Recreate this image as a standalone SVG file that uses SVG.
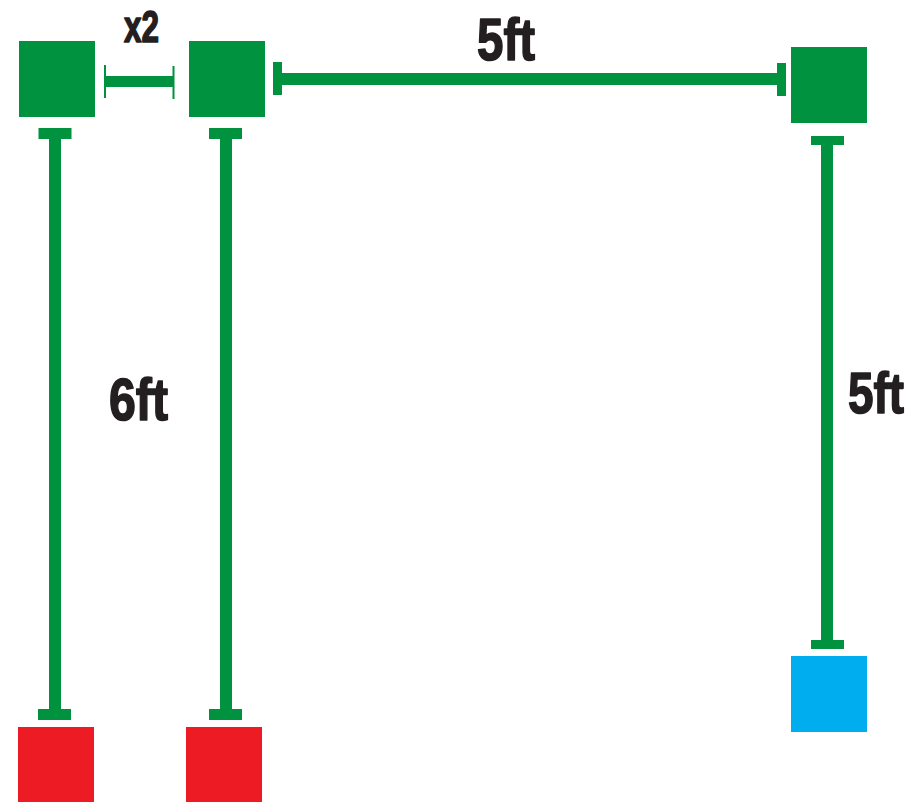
<svg xmlns="http://www.w3.org/2000/svg" width="911" height="802" viewBox="0 0 911 802">
  <style>
    .g { fill: #00923F; }
    .r { fill: #ED1C24; }
    .b { fill: #00AEEF; }
    .lbl { font-family: "Liberation Sans", Arial, sans-serif; font-weight: bold; fill: #231F20; stroke: #231F20; stroke-width: 1.6; stroke-linejoin: round; }
  </style>
  <rect width="911" height="802" fill="#ffffff"/>
  <g id="node-green-1"><rect class="g" x="19" y="41" width="76" height="76"/></g>
  <g id="node-green-2"><rect class="g" x="189" y="41" width="76" height="76"/></g>
  <g id="node-green-3"><rect class="g" x="791" y="47" width="76" height="76"/></g>
  <g id="node-red-1"><rect class="r" x="18" y="727" width="76" height="75"/></g>
  <g id="node-red-2"><rect class="r" x="186" y="727" width="76" height="75"/></g>
  <g id="node-blue"><rect class="b" x="791" y="656" width="76" height="76"/></g>
  <g id="connectors">
    <!-- x2 spacing -->
    <rect class="g" x="104" y="65" width="2" height="33"/>
    <rect class="g" x="106" y="76" width="67" height="11"/>
    <rect class="g" x="172.5" y="66" width="2" height="33"/>
    <!-- 5ft horizontal -->
    <rect class="g" x="273" y="62" width="9" height="33"/>
    <rect class="g" x="282" y="73" width="495" height="12"/>
    <rect class="g" x="777" y="63" width="9" height="33"/>
    <!-- column 1 vertical -->
    <rect class="g" x="38.5" y="128" width="33" height="11"/>
    <rect class="g" x="49" y="139" width="12" height="570"/>
    <rect class="g" x="38" y="709" width="33" height="11"/>
    <!-- column 2 vertical -->
    <rect class="g" x="209" y="128" width="33" height="11"/>
    <rect class="g" x="220" y="139" width="12" height="570"/>
    <rect class="g" x="209" y="709" width="33" height="11"/>
    <!-- column 3 vertical -->
    <rect class="g" x="811" y="136" width="33" height="9"/>
    <rect class="g" x="821" y="145" width="12" height="495"/>
    <rect class="g" x="811" y="640" width="33" height="9"/>
  </g>
  <g id="labels">
    <text class="lbl" x="124" y="41.5" font-size="45" textLength="35" lengthAdjust="spacingAndGlyphs">x2</text>
    <text class="lbl" x="477" y="59.5" font-size="59" textLength="58" lengthAdjust="spacingAndGlyphs">5ft</text>
    <text class="lbl" x="109" y="419.5" font-size="60" textLength="59" lengthAdjust="spacingAndGlyphs">6ft</text>
    <text class="lbl" x="848" y="412.5" font-size="58" textLength="56" lengthAdjust="spacingAndGlyphs">5ft</text>
  </g>
</svg>
